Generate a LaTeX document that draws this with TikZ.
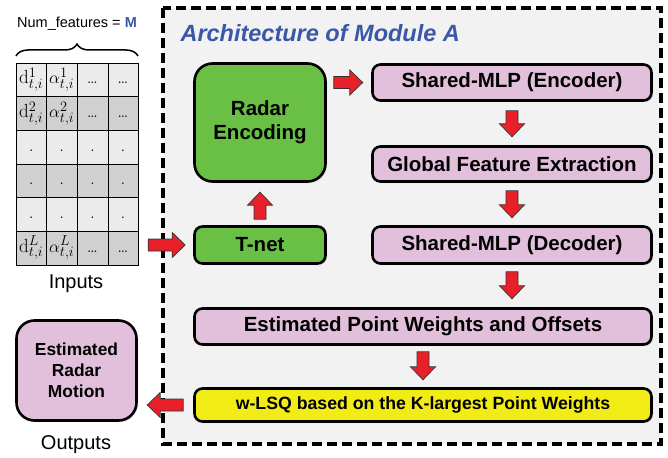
\documentclass[tikz,border=0pt]{standalone}
\usepackage{fontspec}
\setsansfont{Liberation Sans}
\usetikzlibrary{calc,decorations.pathreplacing,shadows}
\definecolor{framebg}{HTML}{F2F2F2}
\definecolor{boxgreen}{HTML}{6ABF45}
\definecolor{boxpink}{HTML}{E2C0DC}
\definecolor{boxyellow}{HTML}{F2EC16}
\definecolor{arrred}{HTML}{E8202A}
\definecolor{titleblue}{HTML}{3B57A8}
\definecolor{celllight}{HTML}{EBEBEB}
\definecolor{celldark}{HTML}{D0D0D0}
\newcommand\bigfont{\fontsize{20.5}{24}\selectfont}
\newcommand\barr[3]{\begin{scope}[shift={#1},rotate=#2]
  \draw[arrowst] (0,-6) -- ({#3-13},-6) -- ({#3-13},-12.5) -- (#3,0) -- ({#3-13},12.5) -- ({#3-13},6) -- (0,6) -- cycle;
\end{scope}}
\begin{document}
\begin{tikzpicture}[x=1pt,y=1pt,font=\sffamily,
  box/.style={draw=black,line width=2.6pt,rounded corners=8pt,align=center,font=\sffamily\bfseries\bigfont,
     inner sep=0pt,drop shadow={opacity=0.25,shadow xshift=1.5pt,shadow yshift=-1.5pt}},
  arrowst/.style={fill=arrred,draw=black!80,line width=0.7pt,line join=miter},
  cell/.style={draw=black,line width=0.8pt},
  celltext/.style={font=\fontsize{19}{22}\selectfont,inner sep=0pt,text height=13pt,text depth=5pt}]
\useasboundingbox (0,0) rectangle (668,-457);
% frame
\draw[fill=framebg,line width=3.6pt,dash pattern=on 10pt off 5pt] (163,-8) rectangle (661,-444);
\node[anchor=base west,text=titleblue,font=\sffamily\bfseries\itshape\fontsize{23.5}{28}\selectfont] (title) at (177,-42) {Architecture of Module A};
% boxes
\node[box,fill=boxgreen,rounded corners=18pt,minimum width=131pt,minimum height=118pt] (renc) at (260,-122.5) {Radar\\Encoding};
\node[box,fill=boxgreen,minimum width=131pt,minimum height=37pt] (tnet) at (260,-245) {T-net};
\node[box,fill=boxpink,minimum width=279pt,minimum height=36pt] (enc) at (512,-82.5) {Shared-MLP (Encoder)};
\node[box,fill=boxpink,minimum width=279pt,minimum height=35pt] (gfe) at (512,-164) {Global Feature Extraction};
\node[box,fill=boxpink,minimum width=279pt,minimum height=37pt] (dec) at (512,-245) {Shared-MLP (Decoder)};
\node[box,fill=boxpink,minimum width=457pt,minimum height=36pt] (epwo) at (423,-326.5) {Estimated Point Weights and Offsets};
\node[box,fill=boxyellow,minimum width=457pt,minimum height=33pt,font=\sffamily\bfseries\fontsize{17.7}{21}\selectfont] (wlsq) at (423,-405) {w-LSQ based on the K-largest Point Weights};
\node[box,fill=boxpink,rounded corners=18pt,minimum width=120pt,minimum height=100pt,font=\sffamily\bfseries\fontsize{17.4}{21}\selectfont] (erm) at (76.5,-370.5) {Estimated\\Radar\\Motion};
\node[font=\sffamily\fontsize{20}{24}\selectfont] (outl) at (76,-445) {Outputs};
% input table
\foreach \r [evaluate=\r as \yt using {-63-33.67*(\r-1)}] in {1,...,6}{
  \pgfmathsetmacro\isodd{mod(\r,2)}
  \ifdim\isodd pt=1pt \def\cc{celllight}\else\def\cc{celldark}\fi
  \foreach \xa/\xb in {16/46.5,46.5/77,77/108,108/138}{
    \draw[cell,fill=\cc] (\xa,\yt) rectangle (\xb,\yt-33.67);
  }
}
\def\rowc#1{-63-33.67*(#1-1)-16.8}
\foreach \r/\s in {1/1,2/2,6/L}{
  \node[celltext] (da\r) at (31.25,{\rowc{\r}}) {$\mathrm{d}^{\s}_{t,i}$};
  \node[celltext] (al\r) at (61.75,{\rowc{\r}}) {$\alpha^{\s}_{t,i}$};
  \node[celltext] (e3\r) at (92.5,{\rowc{\r}}) {\rmfamily\ldots};
  \node[celltext] (e4\r) at (123,{\rowc{\r}}) {\rmfamily\ldots};
}
\foreach \r in {3,4,5}{
  \foreach \xc [count=\k] in {31.25,61.75,92.5,123}{
    \node[celltext] (dot\r\k) at (\xc,{\rowc{\r}}) {\rmfamily .};
  }
}
\draw[line width=1.5pt,decoration={brace,amplitude=12pt},decorate] (16,-56) -- (138,-56);
\node[font=\sffamily\fontsize{14.5}{17}\selectfont] (numf) at (77,-24) {Num\_features = \textcolor{titleblue}{\bfseries M}};
\node[font=\sffamily\fontsize{20}{24}\selectfont] (inl) at (76,-284) {Inputs};
% arrows
\barr{($(tnet.west)+(-45,0)$)}{0}{37}
\barr{($(tnet.north)+(0,6)$)}{90}{27}
\barr{($(renc.east |- enc.west)+(7,0)$)}{0}{29}
\barr{($(enc.south)+(0,-9)$)}{-90}{26}
\barr{($(gfe.south)+(0,-8)$)}{-90}{27}
\barr{($(dec.south)+(0,-7)$)}{-90}{27}
\barr{($(epwo.south)+(0,-6)$)}{-90}{28}
\barr{($(wlsq.west)+(-10,0)$)}{180}{36}
\end{tikzpicture}
\end{document}
